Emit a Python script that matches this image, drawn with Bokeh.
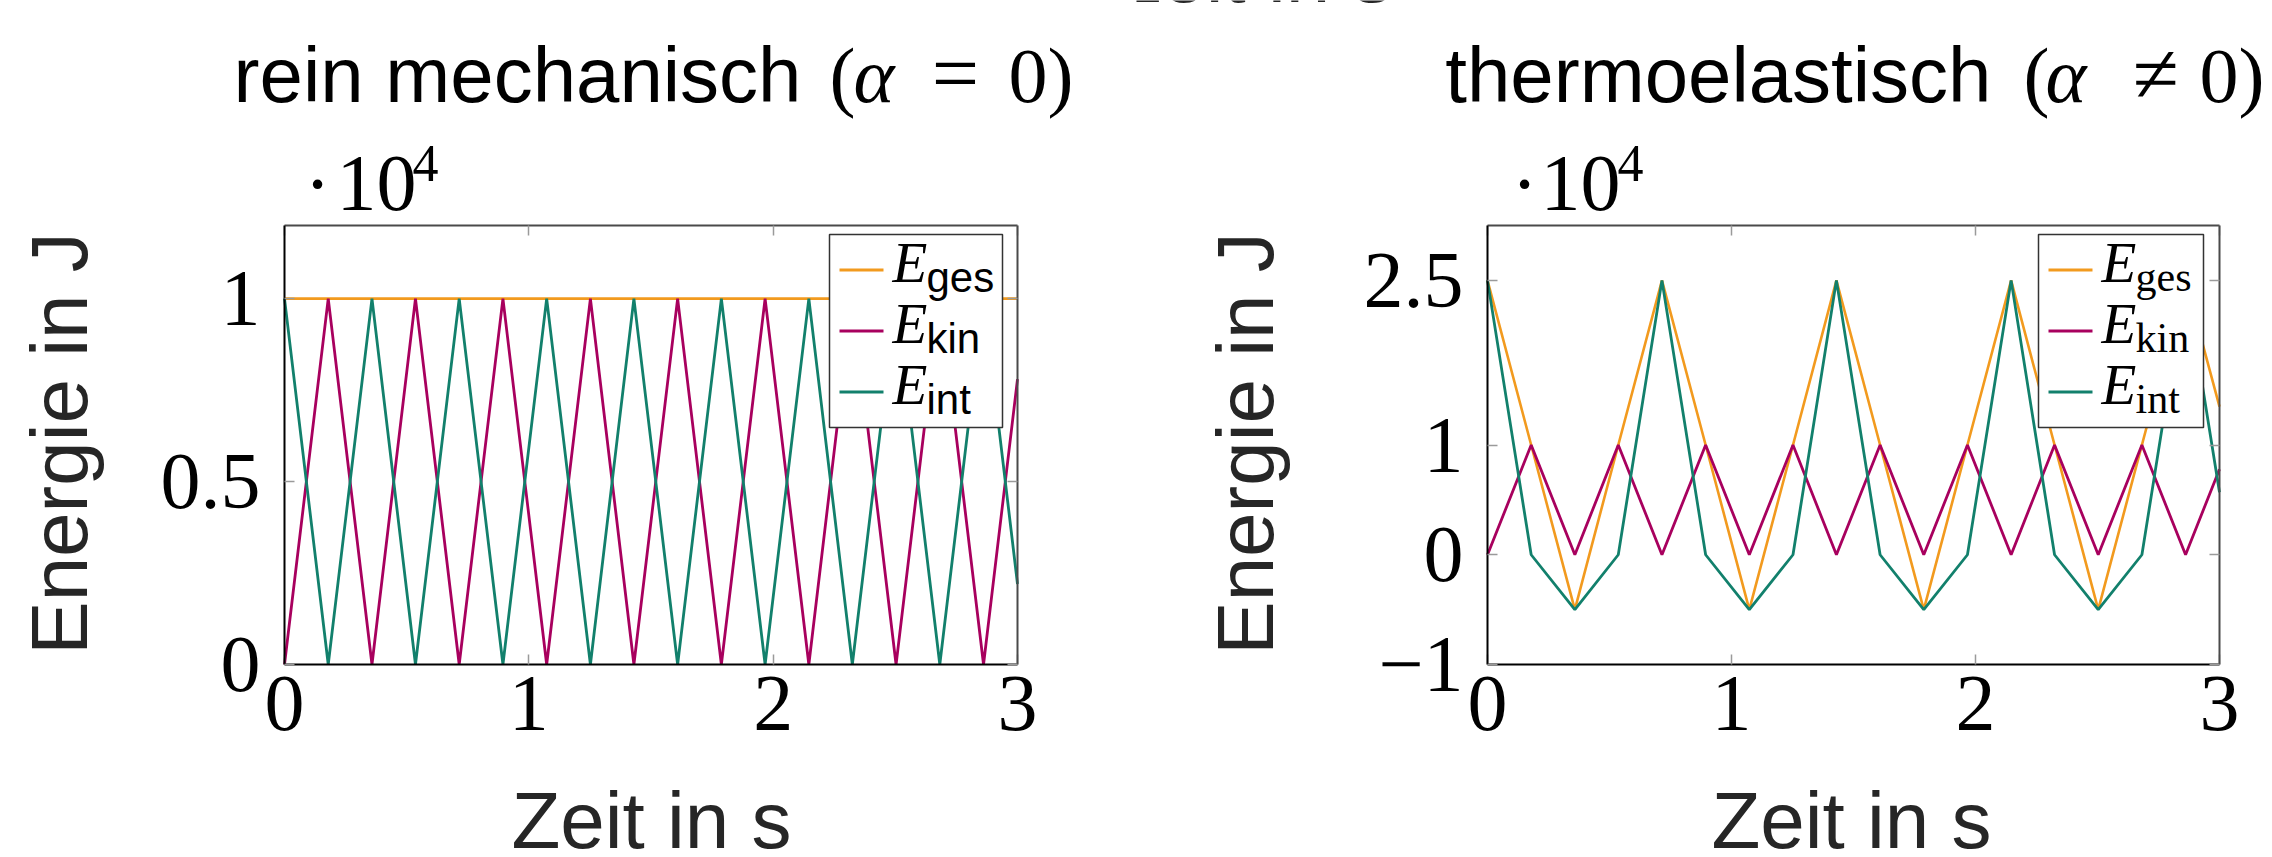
import math
from bokeh.plotting import figure
from bokeh.layouts import row
from bokeh.models import (Label, BoxAnnotation, LinearAxis, FixedTicker,
                          CustomJSTickFormatter, Range1d)
from bokeh.embed import file_html
from bokeh.resources import INLINE

# ---------------- data (energies in 10^4 J, time in s) ----------------
t_mech = [0.000, 0.179, 0.358, 0.536, 0.715, 0.894, 1.073, 1.252, 1.430,
          1.609, 1.788, 1.967, 2.146, 2.324, 2.503, 2.682, 2.861, 3.000]
e_ges_mech = [1.0, 1.0, 1.0, 1.0, 1.0, 1.0, 1.0, 1.0, 1.0,
              1.0, 1.0, 1.0, 1.0, 1.0, 1.0, 1.0, 1.0, 1.0]
e_kin_mech = [0.0, 1.0, 0.0, 1.0, 0.0, 1.0, 0.0, 1.0, 0.0,
              1.0, 0.0, 1.0, 0.0, 1.0, 0.0, 1.0, 0.0, 0.78]
e_int_mech = [1.0, 0.0, 1.0, 0.0, 1.0, 0.0, 1.0, 0.0, 1.0,
              0.0, 1.0, 0.0, 1.0, 0.0, 1.0, 0.0, 1.0, 0.22]

t_thermo = [0.000, 0.179, 0.358, 0.536, 0.715, 0.894, 1.073, 1.252, 1.430,
            1.609, 1.788, 1.967, 2.146, 2.324, 2.503, 2.682, 2.861, 3.000]
e_ges_thermo = [2.5, 1.0, -0.5, 1.0, 2.5, 1.0, -0.5, 1.0, 2.5,
                1.0, -0.5, 1.0, 2.5, 1.0, -0.5, 1.0, 2.5, 1.35]
e_kin_thermo = [0.0, 1.0, 0.0, 1.0, 0.0, 1.0, 0.0, 1.0, 0.0,
                1.0, 0.0, 1.0, 0.0, 1.0, 0.0, 1.0, 0.0, 0.78]
e_int_thermo = [2.5, 0.0, -0.5, 0.0, 2.5, 0.0, -0.5, 0.0, 2.5,
                0.0, -0.5, 0.0, 2.5, 0.0, -0.5, 0.0, 2.5, 0.57]

x_lim = (0, 3)
y_lim_mech = (0, 1.2)
y_lim_thermo = (-1, 3)
x_ticks = [0, 1, 2, 3]
y_ticks_mech = [0, 0.5, 1]
y_ticks_thermo = [-1, 0, 1, 2.5]
series_names = ["ges", "kin", "int"]
titles_main = ["rein mechanisch", "thermoelastisch"]
title_rel = ["=", "\u2260"]
x_label = "Zeit in s"
y_label = "Energie in J"

# ---------------- style / layout (pixels) ----------------
C_GES = "#F29A1E"
C_KIN = "#A8005E"
C_INT = "#12806C"
SERIF = "Liberation Serif"
SANS = "Liberation Sans"
TICK_FS = 80
LAB_COLOR = "#262626"
BASE_SHIFT = 0.36   # empirical correction of the alphabetic baseline (in em)

FIG_W, FIG_H = 1136, 857
FRAME_TOP, FRAME_BOTTOM = 225, 664

num_fmt = CustomJSTickFormatter(code="""
    if (tick < 0) { return "\\u2212" + Math.abs(tick); }
    return String(tick);
""")
blank_fmt = CustomJSTickFormatter(code="return '';")


def make_fig(ylim, yticks, box_left, box_right):
    # the canvas is the whole frame; the plot box is placed by the ranges
    x0, x1 = x_lim
    y0, y1 = ylim
    xs = (box_right - box_left) / (x1 - x0)
    ys = (FRAME_BOTTOM - FRAME_TOP) / (y1 - y0)
    xr = Range1d(x0 - box_left / xs, x1 + (FIG_W - box_right) / xs)
    yr = Range1d(y0 - (FIG_H - FRAME_BOTTOM) / ys, y1 + FRAME_TOP / ys)
    p = figure(width=FIG_W, height=FIG_H, x_range=xr, y_range=yr,
               output_backend="svg", toolbar_location=None, min_border=0,
               background_fill_color="white", border_fill_color="white")
    p.outline_line_color = None
    p.grid.visible = False
    xa, ya = p.xaxis[0], p.yaxis[0]
    xa.fixed_location = y0
    xa.bounds = (x0, x1)
    ya.fixed_location = x0
    ya.bounds = (y0, y1)
    for ax in (xa, ya):
        ax.formatter = num_fmt
        ax.major_label_text_font = SERIF
        ax.major_label_text_font_size = f"{TICK_FS}px"
        ax.major_label_text_color = "black"
        ax.axis_line_color = "black"
        ax.axis_line_width = 2
        ax.major_tick_in = 10
        ax.major_tick_out = 0
        ax.major_tick_line_color = "#9a9a9a"
        ax.major_tick_line_width = 1.5
        ax.minor_tick_line_color = None
    xa.ticker = FixedTicker(ticks=x_ticks)
    ya.ticker = FixedTicker(ticks=yticks)
    xa.major_label_standoff = 12
    ya.major_label_standoff = 24
    # mirrored ticks on top / right
    for side, ticks, loc, bnd in (("above", x_ticks, y1, (x0, x1)),
                                  ("right", yticks, x1, (y0, y1))):
        ax = LinearAxis(ticker=FixedTicker(ticks=ticks), formatter=blank_fmt,
                        fixed_location=loc, bounds=bnd,
                        major_tick_in=10, major_tick_out=0,
                        major_tick_line_color="#9a9a9a", major_tick_line_width=1.5,
                        minor_tick_line_color=None, axis_line_color="#4a4a4a",
                        axis_line_width=2, major_label_text_font_size="1px",
                        major_label_standoff=0)
        p.add_layout(ax, side)
    return p


def put(p, cx, cy, text, font, size, style="normal", align="left",
        color="black", vertical=False):
    shift = BASE_SHIFT * size
    if vertical:
        cx -= shift
    else:
        cy -= shift
    p.add_layout(Label(x=cx, y=FIG_H - cy, x_units="screen", y_units="screen",
                       text=text, text_font=font, text_font_size=f"{size}px",
                       text_font_style=style, text_align=align,
                       text_baseline="alphabetic", text_color=color,
                       angle=math.pi / 2 if vertical else 0.0))


def box(p, x0, x1, y0, y1, fill, line=None, lw=1.5):
    p.add_layout(BoxAnnotation(left=x0, right=x1, bottom=FIG_H - y1, top=FIG_H - y0,
                               left_units="screen", right_units="screen",
                               top_units="screen", bottom_units="screen",
                               fill_color=fill, fill_alpha=1.0,
                               line_color=line, line_width=lw, line_alpha=1.0))


def legend(p, bx0, width, sub_font):
    box(p, bx0, bx0 + width, 234, 427, "white", "#333333", 1.5)
    for i, (name, col) in enumerate(zip(series_names, [C_GES, C_KIN, C_INT])):
        base = 283 + 61 * i
        box(p, bx0 + 10, bx0 + 54, base - 15, base - 12, col, None, 0)
        put(p, bx0 + 63, base, "E", SERIF, 57, style="italic")
        put(p, bx0 + 97, base + 9, name, sub_font, 42)


# ---------------- left: rein mechanisch ----------------
p1 = make_fig(y_lim_mech, y_ticks_mech, 284, 1017)
p1.line(t_mech, e_ges_mech, line_color=C_GES, line_width=2.6)
p1.line(t_mech, e_kin_mech, line_color=C_KIN, line_width=2.8)
p1.line(t_mech, e_int_mech, line_color=C_INT, line_width=2.8)
legend(p1, 829, 173, SANS)
put(p1, 801, 103, titles_main[0], SANS, 78, align="right")
put(p1, 829, 103, "(", SERIF, 78)
put(p1, 853, 103, "\u03b1", SERIF, 78, style="italic")
put(p1, 955, 103, title_rel[0], SERIF, 84, align="center")
put(p1, 1008, 103, "0)", SERIF, 78)
put(p1, 317, 212, "\u00b7", SERIF, 80, align="center")
put(p1, 336, 212, "10", SERIF, 80)
put(p1, 412, 182, "4", SERIF, 52)
put(p1, 88, 443, y_label, SANS, 80, align="center", color=LAB_COLOR, vertical=True)
put(p1, 651, 849, x_label, SANS, 80, align="center", color=LAB_COLOR)

# ---------------- right: thermoelastisch ----------------
OFF = 1136
p2 = make_fig(y_lim_thermo, y_ticks_thermo, 1487 - OFF, 2219 - OFF)
p2.line(t_thermo, e_ges_thermo, line_color=C_GES, line_width=2.6)
p2.line(t_thermo, e_kin_thermo, line_color=C_KIN, line_width=2.8)
p2.line(t_thermo, e_int_thermo, line_color=C_INT, line_width=2.8)
legend(p2, 2038 - OFF, 165, SERIF)
put(p2, 1991 - OFF, 103, titles_main[1], SANS, 78, align="right")
put(p2, 2023 - OFF, 103, "(", SERIF, 78)
put(p2, 2045 - OFF, 103, "\u03b1", SERIF, 78, style="italic")
put(p2, 2155 - OFF, 103, title_rel[1], SERIF, 84, align="center")
put(p2, 2199 - OFF, 103, "0)", SERIF, 78)
put(p2, 1524 - OFF, 212, "\u00b7", SERIF, 80, align="center")
put(p2, 1540 - OFF, 212, "10", SERIF, 80)
put(p2, 1617 - OFF, 182, "4", SERIF, 52)
put(p2, 1274 - OFF, 443, y_label, SANS, 80, align="center", color=LAB_COLOR, vertical=True)
put(p2, 1851 - OFF, 849, x_label, SANS, 80, align="center", color=LAB_COLOR)
put(p2, 1252 - OFF, 3, x_label, SANS, 80, align="center", color=LAB_COLOR)

layout = row(p1, p2, spacing=0)
open("out.html", "w").write(file_html(layout, INLINE))
